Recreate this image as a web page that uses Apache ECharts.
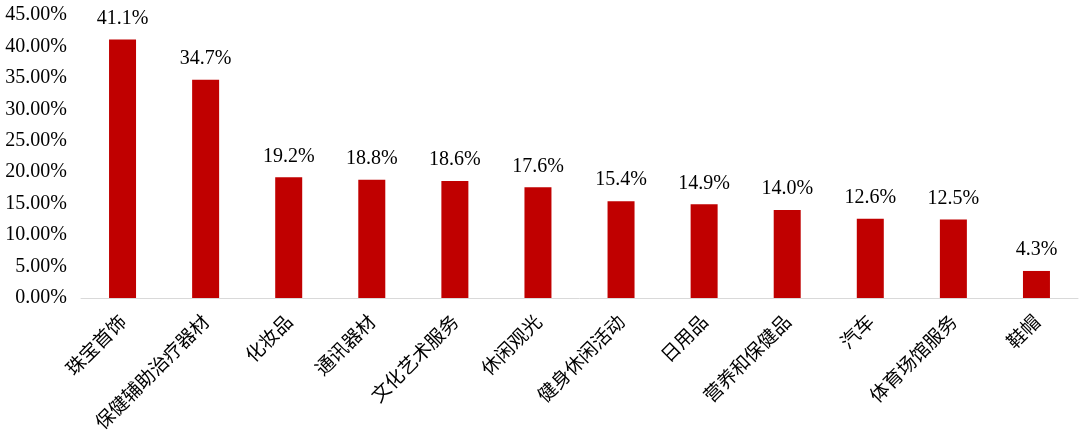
<!DOCTYPE html>
<html>
<head>
<meta charset="utf-8">
<script src="https://cdn.jsdelivr.net/npm/echarts@6/dist/echarts.min.js"></script>
<style>
  html, body { margin: 0; padding: 0; background: #fff; }
  #chart { width: 1080px; height: 444px; }
</style>
</head>
<body>
<div id="chart"></div>
<script>
// 品类
const categories = ['珠宝首饰', '保健辅助治疗器材', '化妆品', '通讯器材', '文化艺术服务', '休闲观光',
  '健身休闲活动', '日用品', '营养和保健品', '汽车', '体育场馆服务', '鞋帽'];
// 数值 (%)
const values = [41.1, 34.7, 19.2, 18.8, 18.6, 17.6, 15.4, 14.9, 14.0, 12.6, 12.5, 4.3];

const chart = echarts.init(document.getElementById('chart'));
const option = {
  animation: false,
  grid: { left: 81, right: 2, top: 15, bottom: 146, containLabel: false },
  xAxis: {
    type: 'category',
    data: categories,
    axisLine: { show: true, lineStyle: { color: '#d9d9d9', width: 1 } },
    axisTick: { show: false },
    axisLabel: {
      rotate: 45,
      interval: 0,
      margin: 20,
      fontSize: 19,
      color: '#000',
      fontFamily: 'Noto Sans CJK SC'
    }
  },
  yAxis: {
    type: 'value',
    min: 0,
    max: 45,
    interval: 5,
    axisLine: { show: false },
    axisTick: { show: false },
    splitLine: { show: false },
    axisLabel: {
      margin: 14,
      fontSize: 20,
      color: '#000',
      fontFamily: 'Liberation Serif',
      formatter: v => v.toFixed(2) + '%'
    }
  },
  series: [{
    type: 'bar',
    data: values,
    barWidth: 27,
    itemStyle: { color: '#C00000' },
    label: {
      show: true,
      position: 'top',
      distance: 11,
      fontSize: 20,
      color: '#000',
      fontFamily: 'Liberation Serif',
      formatter: p => p.value.toFixed(1) + '%'
    }
  }]
};
chart.setOption(option);
</script>
</body>
</html>
